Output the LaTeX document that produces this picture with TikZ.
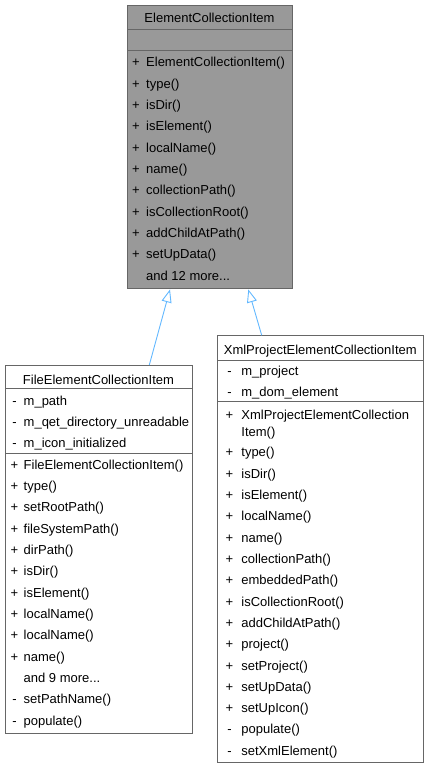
\documentclass[tikz,border=0pt]{standalone}
\usepackage{fontspec}
\setmainfont{Liberation Sans}
\usetikzlibrary{arrows.meta}
\definecolor{boxline}{HTML}{666666}
\definecolor{topfill}{HTML}{999999}
\definecolor{edgeblue}{HTML}{63B8FF}
\tikzset{
  classbox/.style={draw=boxline, line width=0.9pt, rectangle, inner sep=0pt, anchor=north west},
  sepline/.style={draw=boxline, line width=0.9pt},
  txt/.style={inner sep=0pt, anchor=base west, font=\fontsize{13}{16}\selectfont, text=black},
  ctxt/.style={inner sep=0pt, anchor=base, font=\fontsize{13}{16}\selectfont, text=black},
  inh/.style={draw=edgeblue, line width=0.9pt, -{Triangle[open, length=13pt, width=10pt]}},
}
\begin{document}
\begin{tikzpicture}[x=1pt,y=-1pt]
\useasboundingbox (0,0) rectangle (429,768);

% ---------- top class ----------
\node[classbox, fill=topfill, minimum width=165pt, minimum height=282.5pt] (top) at (127,5) {};
\draw[sepline] ([yshift=-24pt]top.north west) -- ([yshift=-24pt]top.north east);
\draw[sepline] ([yshift=-45.5pt]top.north west) -- ([yshift=-45.5pt]top.north east);
\node[ctxt] (toptitle) at (209.5,22.8) {ElementCollectionItem};
\foreach \n [count=\i from 0] in {ElementCollectionItem(),type(),isDir(),isElement(),localName(),name(),collectionPath(),isCollectionRoot(),addChildAtPath(),setUpData()}{
  \pgfmathsetmacro\yy{66.7+21.33*\i}
  \node[ctxt] (topp\i) at (136,\yy) {+};
  \node[txt] (topm\i) at (146,\yy) {\n};
}
\node[txt] (topmore) at (146,{66.7+21.33*10}) {and 12 more...};

% ---------- left class ----------
\node[classbox, fill=white, minimum width=187pt, minimum height=367.7pt] (left) at (5,365) {};
\draw[sepline] ([yshift=-23.5pt]left.north west) -- ([yshift=-23.5pt]left.north east);
\draw[sepline] ([yshift=-88.3pt]left.north west) -- ([yshift=-88.3pt]left.north east);
\node[ctxt] (lefttitle) at (98.5,384) {FileElementCollectionItem};
\foreach \n [count=\i from 0] in {m\_path,m\_qet\_directory\_unreadable,m\_icon\_initialized}{
  \pgfmathsetmacro\yy{405.7+21*\i}
  \node[ctxt] (leftap\i) at (14.5,\yy) {-};
  \node[txt] (lefta\i) at (23.5,\yy) {\n};
}
\foreach \n [count=\i from 0] in {FileElementCollectionItem(),type(),setRootPath(),fileSystemPath(),dirPath(),isDir(),isElement(),localName(),localName(),name()}{
  \pgfmathsetmacro\yy{469.3+21.33*\i}
  \node[ctxt] (leftp\i) at (14.5,\yy) {+};
  \node[txt] (leftm\i) at (23.5,\yy) {\n};
}
\node[txt] (leftmore) at (23.5,{469.3+21.33*10}) {and 9 more...};
\foreach \n [count=\i from 11] in {setPathName(),populate()}{
  \pgfmathsetmacro\yy{469.3+21.33*\i}
  \node[ctxt] (leftp\i) at (14.5,\yy) {-};
  \node[txt] (leftm\i) at (23.5,\yy) {\n};
}

% ---------- right class ----------
\node[classbox, fill=white, minimum width=206pt, minimum height=426.7pt] (right) at (217.3,335.3) {};
\draw[sepline] ([yshift=-24.7pt]right.north west) -- ([yshift=-24.7pt]right.north east);
\draw[sepline] ([yshift=-66.4pt]right.north west) -- ([yshift=-66.4pt]right.north east);
\node[ctxt] (righttitle) at (320.3,354.5) {XmlProjectElementCollectionItem};
\foreach \n [count=\i from 0] in {m\_project,m\_dom\_element}{
  \pgfmathsetmacro\yy{375.7+21*\i}
  \node[ctxt] (rightap\i) at (229.5,\yy) {-};
  \node[txt] (righta\i) at (241.2,\yy) {\n};
}
\node[ctxt] (rightpc) at (229.5,419.5) {+};
\node[txt] (rightc1) at (241.2,419.5) {XmlProjectElementCollection};
\node[txt] (rightc2) at (241.2,436) {Item()};
\foreach \n [count=\i from 0] in {type(),isDir(),isElement(),localName(),name(),collectionPath(),embeddedPath(),isCollectionRoot(),addChildAtPath(),project(),setProject(),setUpData(),setUpIcon()}{
  \pgfmathsetmacro\yy{456.7+21.33*\i}
  \node[ctxt] (rightp\i) at (229.5,\yy) {+};
  \node[txt] (rightm\i) at (241.2,\yy) {\n};
}
\foreach \n [count=\i from 13] in {populate(),setXmlElement()}{
  \pgfmathsetmacro\yy{456.7+21.33*\i}
  \node[ctxt] (rightp\i) at (229.5,\yy) {-};
  \node[txt] (rightm\i) at (241.2,\yy) {\n};
}

% ---------- inheritance ----------
\draw[inh] ([xshift=144.3pt]left.north west) -- ([xshift=43pt,yshift=-1pt]top.south west);
\draw[inh] ([xshift=44.4pt]right.north west) -- ([xshift=121.3pt,yshift=-1pt]top.south west);
\end{tikzpicture}
\end{document}
